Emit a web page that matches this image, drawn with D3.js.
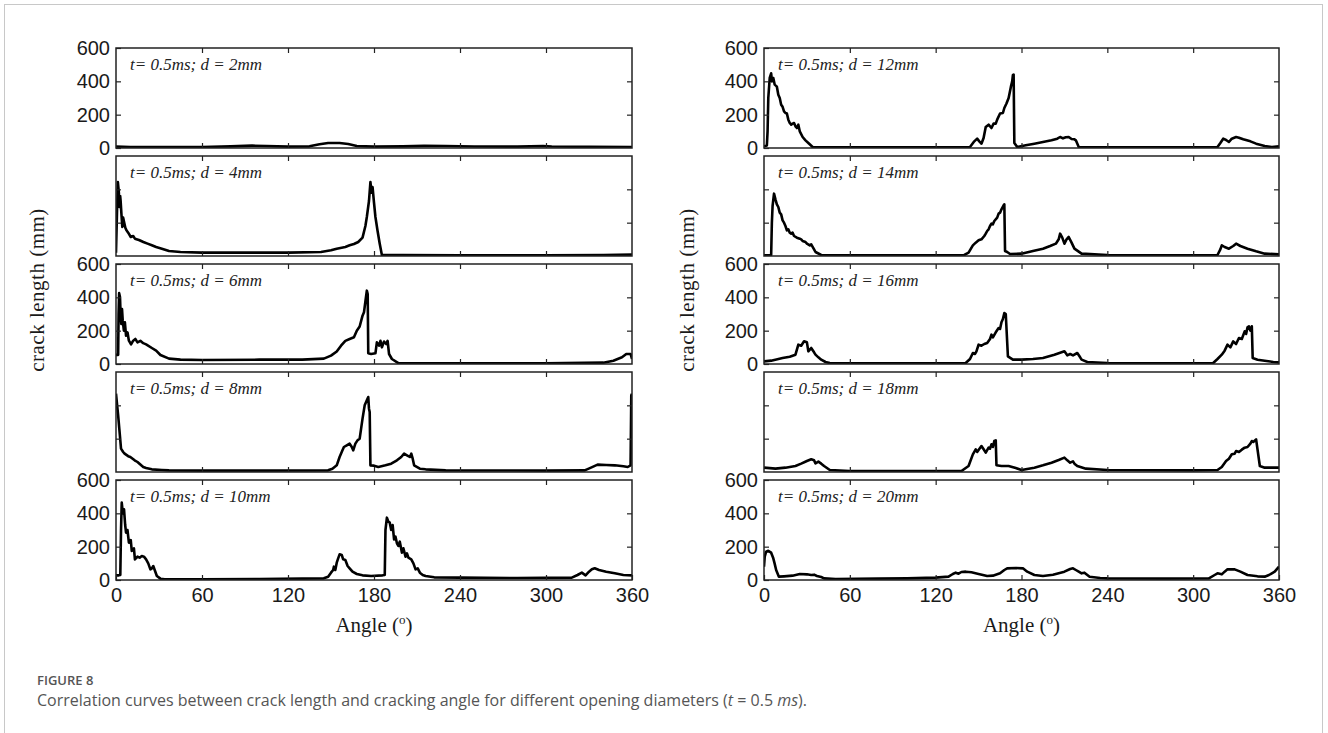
<!DOCTYPE html>
<html>
<head>
<meta charset="utf-8">
<script src="https://cdn.jsdelivr.net/npm/d3@7"></script>
<style>
body { margin: 0; background: #fff; }
</style>
</head>
<body>
<div class="fig"></div>
<script>
// angle ticks / length ticks
var angleTicks = [0, 60, 120, 180, 240, 300, 360];
var lengthTicks = [0, 200, 400, 600];
var diameters = [2, 4, 6, 8, 10, 12, 14, 16, 18, 20];

// [angle (deg), crack length (mm)]
var d2 = [[0,8],[10,6],[30,5],[60,6],[80,10],[95,14],[105,12],[120,8],[135,10],[142,22],[148,30],[156,30],[162,24],[168,12],[180,8],[200,10],[215,13],[230,12],[250,9],[280,8],[298,12],[304,9],[330,7],[360,6]];
var d4 = [[0,20],[0.8,300],[1.3,444],[2,380],[2.4,294],[2.9,360],[3.2,334],[3.8,250],[4.4,174],[5,230],[5.9,194],[6.5,170],[7.3,154],[8.5,140],[10.3,114],[12,120],[13.2,104],[16,96],[19.1,84],[22,74],[25,64],[28,54],[32,44],[37,30],[45,24],[60,20],[90,20],[120,20],[143,24],[150,34],[154,44],[160,54],[163,64],[166,72],[169,84],[172,110],[174,180],[175,234],[176.5,330],[177.5,444],[178.3,380],[179,414],[180,320],[181,234],[182.5,150],[184,74],[185.5,6],[200,5],[240,4],[300,4],[340,6],[360,8]];
var d6 = [[0,55],[1.5,55],[1.8,300],[2.2,425],[2.8,400],[3.2,300],[3.7,240],[4.2,330],[4.7,260],[5.5,200],[6.2,250],[7,170],[8,190],[9,140],[10.5,118],[12,140],[13.5,150],[15,130],[17,139],[19,125],[21,118],[25,96],[28,80],[31,54],[37,32],[45,26],[60,24],[100,26],[130,26],[145,32],[150,50],[154,75],[157,110],[160,139],[163,150],[166,160],[168,200],[170,225],[172,290],[173,310],[174,375],[175,440],[175.6,420],[176,64],[178,60],[181,64],[182,130],[183.5,110],[184.5,139],[185.5,100],[187,135],[188.5,120],[189.5,139],[190.5,60],[192.5,30],[197,5],[230,4],[300,4],[340,8],[347,20],[353,40],[356,60],[359,60],[360,30]];
var d8 = [[0,470],[0.8,400],[1.5,340],[2.3,260],[3.5,140],[5,120],[6,110],[8.5,95],[10,90],[13,70],[15,60],[17,45],[19,30],[21,24],[25,16],[32,12],[37,10],[60,8],[100,8],[148,10],[151,20],[154,40],[156,90],[158,130],[159,150],[161,160],[163,170],[164.5,150],[165.5,130],[167,170],[168.5,190],[170,200],[171,260],[172,320],[173.5,400],[175,430],[176,450],[176.5,380],[177,360],[177.5,40],[180,38],[183,30],[188,40],[192,50],[196,70],[199,90],[201,110],[203,100],[205,90],[206,110],[207,80],[208,40],[212,20],[216,16],[230,10],[300,8],[327,10],[331,25],[336,44],[342,42],[348,40],[354,34],[357,30],[359,40],[359.5,460],[360,470]];
var d10 = [[0,28],[2,28],[3,30],[3.5,300],[4,464],[4.8,400],[5.6,424],[6.4,330],[7,284],[8,300],[9,224],[10.3,240],[11,174],[12.5,190],[13.2,124],[15,140],[16.5,134],[18,144],[19.5,140],[21,124],[22.5,100],[24,64],[25,70],[26,84],[27,60],[28.5,24],[31,8],[34,4],[60,4],[100,6],[130,8],[145,10],[148,20],[150,44],[151.5,60],[152,80],[153,60],[154,104],[155,130],[156,154],[157.5,150],[158.5,124],[160,120],[161.6,84],[163,70],[165,50],[168,36],[172,28],[178,24],[186,28],[187.5,30],[188,300],[189,374],[190,350],[191,344],[192,300],[193,330],[194,244],[195,260],[196,220],[197,204],[198,230],[199.5,164],[200.5,190],[202,140],[203,160],[204,134],[206,124],[207.5,100],[209,64],[210.5,70],[212,44],[214,30],[216,24],[222,16],[240,14],[280,12],[318,14],[322,30],[325,44],[327.6,28],[330,50],[332,64],[334,70],[337,60],[342,50],[348,40],[354,30],[360,28]];
var d12 = [[0,10],[2,15],[2.5,100],[3,300],[4,420],[5,448],[5.6,400],[6.5,420],[7.5,380],[9,368],[10,320],[11,300],[12,260],[13,247],[14,220],[15,210],[16,207],[17,170],[18,150],[19,140],[20,146],[21,150],[22,130],[23,120],[24,140],[25,100],[27,66],[29,46],[31,30],[34,6],[60,4],[100,4],[144,6],[147,40],[149,56],[150.5,40],[152,26],[153.5,60],[155,126],[157,140],[159,120],[160.5,146],[162,146],[163,170],[165,207],[167,210],[168,240],[169.5,267],[171,300],[172.6,368],[173.5,400],[174,438],[174.5,440],[175,30],[177,6],[183,16],[189,26],[195,36],[201,46],[205,56],[207,66],[209,58],[211,64],[213,66],[215,54],[217,52],[218,46],[220,6],[240,4],[300,4],[317,6],[319,30],[321,56],[323,48],[325,36],[327,56],[330,66],[332,62],[335,52],[340,40],[344,26],[350,12],[355,6],[360,10]];
var d14 = [[0,4],[5,6],[5.5,200],[6,300],[7,374],[8,340],[9,310],[10,294],[11,260],[12,250],[13,214],[14,200],[15,180],[16,154],[17,160],[18,140],[19,134],[20,140],[21,120],[23,110],[25,104],[26,100],[27,90],[29,84],[30,74],[32,64],[33,70],[35,40],[36,24],[40,6],[60,4],[100,4],[140,6],[143,20],[146,64],[148,80],[150,94],[152,100],[154,120],[155,134],[156,150],[157,160],[158,180],[159,194],[160,190],[161,210],[163,230],[164,254],[165,260],[166,280],[167.5,304],[168,310],[168.5,30],[170,24],[172,12],[180,14],[188,30],[195,44],[200,60],[204,74],[206,100],[207,134],[208.5,110],[210,74],[211.5,100],[213,114],[215,80],[217,44],[222,14],[240,6],[300,4],[317,6],[319,40],[320,64],[322,54],[325,44],[328,60],[330,74],[333,60],[338,44],[344,28],[350,14],[360,10]];
var d16 = [[0,16],[5,20],[13,36],[18,44],[22,56],[24,116],[26,110],[28,136],[30,130],[31,76],[33,96],[35,70],[36,56],[38,40],[40,26],[43,12],[46,6],[60,4],[100,4],[141,6],[144,30],[146,66],[147.5,60],[148.5,76],[150,116],[152,110],[154,120],[156,126],[158,150],[159,176],[160,160],[162,190],[164,216],[165,210],[166,250],[167,270],[168,306],[169,300],[170.5,46],[174,26],[180,26],[188,30],[195,36],[203,56],[208,70],[210,76],[212,52],[214,60],[216,52],[219,66],[221,40],[222,26],[226,12],[240,6],[300,4],[314,6],[317,30],[320,56],[322,80],[324,116],[326,100],[328,136],[330,120],[332,156],[334,150],[336,196],[337,180],[338,220],[339,226],[340,200],[341,226],[341.6,36],[345,26],[350,20],[356,12],[360,10]];
var d18 = [[0,26],[8,20],[15,26],[22,36],[26,50],[30,66],[33,76],[35,70],[36,52],[38,62],[40,50],[42,36],[46,12],[60,6],[100,6],[138,6],[143,36],[146,106],[148,136],[149,120],[152,156],[154,130],[155,116],[157,146],[158,140],[159,166],[160,150],[161,186],[162,190],[162.5,40],[166,36],[171,36],[176,24],[180,12],[185,20],[189,26],[195,40],[201,56],[206,72],[210,86],[212,70],[214,56],[216,64],[217,50],[219,36],[225,20],[240,12],[300,10],[317,12],[320,30],[323,66],[325,80],[327,106],[329,110],[330,126],[332,120],[334,134],[336,146],[338,150],[340,170],[341,186],[342,180],[344,196],[346.6,36],[350,26],[360,26]];
var d20 = [[0,80],[0.5,140],[1.5,170],[3,175],[5,164],[6.5,130],[7.4,100],[8.5,60],[10.4,20],[14,22],[20,26],[25,36],[30,34],[33,30],[35,32],[37,24],[40,18],[42,10],[50,6],[80,8],[100,10],[120,14],[129,20],[132,36],[134,44],[136,38],[138,48],[141,50],[145,46],[150,36],[156,24],[160,26],[165,40],[168,60],[170,70],[176,72],[181,70],[184,50],[189,30],[195,24],[202,32],[210,50],[214,66],[216,70],[218,60],[220,50],[222,40],[224,44],[227.6,20],[235,12],[240,10],[280,8],[311,10],[315,30],[317,40],[320,34],[322,50],[324,64],[329,64],[333,50],[338,30],[345,22],[350,20],[353,30],[357,50],[360,80]];

var curves = [d2, d4, d6, d8, d10, d12, d14, d16, d18, d20];

var W = 1328, H = 733;
var colX = [[116, 632], [764, 1279]];
var top0 = 48, panelH = 100, gap = 8;

var svg = d3.select(".fig").append("svg")
    .attr("width", W)
    .attr("height", H);

// outer frame
svg.append("rect")
    .attr("x", 4.5).attr("y", 4.5)
    .attr("width", 1318).attr("height", 760)
    .attr("fill", "none")
    .attr("stroke", "#c8c8c8");

var line = d3.line();

for (var i = 0; i < curves.length; i++) {
    var c = Math.floor(i / 5), r = i % 5;
    var y0 = top0 + r * (panelH + gap);
    var x = d3.scaleLinear().domain([0, 360]).range(colX[c]);
    var y = d3.scaleLinear().domain([0, 600]).range([y0 + panelH, y0]);
    var g = svg.append("g").attr("class", "panel");

    g.append("clipPath").attr("id", "clip" + i)
        .append("rect")
        .attr("x", x(0)).attr("y", y(600))
        .attr("width", x(360) - x(0)).attr("height", panelH);

    line.x(function(d) { return x(d[0]); })
        .y(function(d) { return y(d[1]); });

    g.append("path")
        .datum(curves[i])
        .attr("d", line)
        .attr("clip-path", "url(#clip" + i + ")")
        .attr("fill", "none")
        .attr("stroke", "#000")
        .attr("stroke-width", 2.6)
        .attr("stroke-linejoin", "round");

    // inward ticks on all four sides
    var inner = angleTicks.slice(1, -1);
    g.append("g").attr("transform", "translate(0," + y(0) + ")")
        .call(d3.axisBottom(x).tickValues(r == 4 ? angleTicks : inner)
              .tickSize(-5).tickPadding(8).tickSizeOuter(0)
              .tickFormat(r == 4 ? d3.format("d") : ""));
    g.append("g").attr("transform", "translate(0," + y(600) + ")")
        .call(d3.axisTop(x).tickValues(inner).tickSize(-5).tickSizeOuter(0).tickFormat(""));
    g.append("g").attr("transform", "translate(" + x(0) + ",0)")
        .call(d3.axisLeft(y).tickValues(r % 2 == 0 ? lengthTicks : [200, 400])
              .tickSize(-5).tickPadding(6).tickSizeOuter(0)
              .tickFormat(r % 2 == 0 ? d3.format("d") : ""));
    g.append("g").attr("transform", "translate(" + x(360) + ",0)")
        .call(d3.axisRight(y).tickValues([200, 400]).tickSize(-5).tickSizeOuter(0).tickFormat(""));

    g.append("rect")
        .attr("x", x(0)).attr("y", y(600))
        .attr("width", x(360) - x(0)).attr("height", panelH)
        .attr("fill", "none")
        .attr("stroke", "#222")
        .attr("stroke-width", 1.5);

    g.append("text")
        .attr("x", x(0) + 14)
        .attr("y", y0 + 22)
        .style("font-family", "'Liberation Serif', 'Times New Roman', serif")
        .style("font-style", "italic")
        .style("font-size", "17px")
        .style("fill", "#222")
        .text("t= 0.5ms; d = " + diameters[i] + "mm");
}

svg.selectAll(".tick line").attr("stroke", "#222").attr("stroke-width", 1.2);
svg.selectAll(".domain").remove();
svg.selectAll(".tick text")
    .style("font-family", "'Liberation Sans', Arial, sans-serif")
    .style("font-size", "20px")
    .style("fill", "#1a1a1a");

for (var c = 0; c < 2; c++) {
    var mid = (colX[c][0] + colX[c][1]) / 2;
    var lx = c == 0 ? 44 : 694;
    svg.append("text")
        .attr("transform", "translate(" + lx + ",290) rotate(-90)")
        .attr("text-anchor", "middle")
        .style("font-family", "'Liberation Serif', 'Times New Roman', serif")
        .style("font-size", "21px")
        .style("letter-spacing", "0.5px")
        .style("fill", "#1a1a1a")
        .text("crack length (mm)");

    var at = svg.append("text")
        .attr("x", mid).attr("y", 632)
        .attr("text-anchor", "middle")
        .style("font-family", "'Liberation Serif', 'Times New Roman', serif")
        .style("font-size", "21px")
        .style("fill", "#1a1a1a");
    at.append("tspan").text("Angle (");
    at.append("tspan").attr("dy", -8).style("font-size", "13px").text("o");
    at.append("tspan").attr("dy", 8).text(")");
}

svg.append("text")
    .attr("x", 37).attr("y", 685)
    .style("font-family", "'Open Sans', 'Noto Sans', sans-serif")
    .style("font-size", "13px")
    .style("font-weight", 600)
    .style("fill", "#555")
    .text("FIGURE 8");

var cap = svg.append("text")
    .attr("x", 37).attr("y", 706)
    .style("font-family", "'Open Sans', 'Noto Sans', sans-serif")
    .style("font-size", "16px")
    .style("fill", "#555");
cap.append("tspan").text("Correlation curves between crack length and cracking angle for different opening diameters (");
cap.append("tspan").style("font-style", "italic").text("t");
cap.append("tspan").text(" = 0.5 ");
cap.append("tspan").style("font-style", "italic").text("ms");
cap.append("tspan").text(").");
</script>
</body>
</html>
